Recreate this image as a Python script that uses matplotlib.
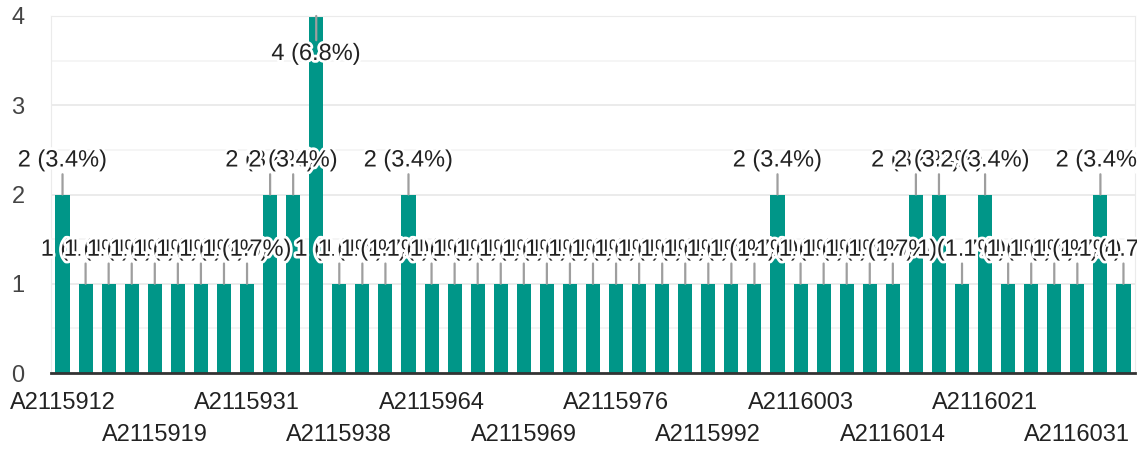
import matplotlib
matplotlib.use("Agg")
import matplotlib.pyplot as plt
import matplotlib.patheffects as pe
from matplotlib.transforms import Bbox, TransformedBbox

plt.rcParams['font.family'] = ['Liberation Sans', 'DejaVu Sans']

# student ids (only every 4th is printed on the axis)
categories = [
    "A2115912", "A2115914", "A2115916", "A2115917",
    "A2115919", "A2115922", "A2115925", "A2115928",
    "A2115931", "A2115933", "A2115935", "A2115936",
    "A2115938", "A2115944", "A2115951", "A2115957",
    "A2115964", "A2115965", "A2115966", "A2115968",
    "A2115969", "A2115971", "A2115973", "A2115974",
    "A2115976", "A2115980", "A2115984", "A2115988",
    "A2115992", "A2115995", "A2115998", "A2116001",
    "A2116003", "A2116005", "A2116008", "A2116011",
    "A2116014", "A2116016", "A2116018", "A2116019",
    "A2116021", "A2116023", "A2116026", "A2116028",
    "A2116031", "A2116033", "A2116036",
]
counts = [
    2, 1, 1, 1, 1, 1, 1, 1, 1, 2, 2, 4, 1, 1, 1,
    2, 1, 1, 1, 1, 1, 1, 1, 1, 1, 1, 1, 1, 1, 1, 1, 2,
    1, 1, 1, 1, 1, 2, 2, 1, 2, 1, 1, 1, 1, 2, 1,
]
y_ticks = [0, 1, 2, 3, 4]

BAR = "#009688"
total = sum(counts)
x = list(range(len(counts)))

fig = plt.figure(figsize=(11.44, 4.49), dpi=100)
ax = fig.add_axes([51 / 1144, 1 - 373 / 449, (1135 - 51) / 1144, (373 - 16) / 449])

ax.bar(x, counts, width=0.61, color=BAR, zorder=2)
ax.set_xlim(-0.5, len(counts) - 0.5)
ax.set_ylim(0, 4)

ax.set_yticks(y_ticks)
ax.set_yticks([0.5, 1.5, 2.5, 3.5], minor=True)
ax.grid(axis="y", which="major", color="#e8e8e8", lw=1.2, zorder=0)
ax.grid(axis="y", which="minor", color="#f4f4f4", lw=1.2, zorder=0)
ax.tick_params(axis="y", which="both", length=0, pad=19, labelsize=17, labelcolor="#444444")

shown = x[::4]
ax.set_xticks(shown)
ax.set_xticklabels([categories[i] for i in shown])
ax.tick_params(axis="x", length=0, labelsize=17, labelcolor="#222222")
for k, t in enumerate(ax.xaxis.get_major_ticks()):
    t.set_pad(14 if k % 2 == 0 else 37)

for s in ["left", "right", "top"]:
    ax.spines[s].set_color("#ebebeb")
ax.spines["bottom"].set_color("#333333")
ax.spines["bottom"].set_linewidth(2)
ax.spines["bottom"].set_zorder(3)

clip = TransformedBbox(Bbox([[0, 0], [1137 / 1144, 1]]), fig.transFigure)
top = max(counts)
for i, v in enumerate(counts):
    label = f"{v} ({v / total * 100:.1f}%)"
    if v == top:
        off, va, rel = -27, "top", (0.5, 1)
    else:
        off, va, rel = 23, "bottom", (0.5, 0)
    a = ax.annotate(label, xy=(i, v), xytext=(0, off), textcoords="offset pixels",
                    ha="center", va=va, fontsize=17, color="#222222", zorder=4,
                    annotation_clip=False,
                    arrowprops=dict(arrowstyle="-", color="#9e9e9e", lw=1.6,
                                    shrinkA=0, shrinkB=0, relpos=rel))
    a.set_path_effects([pe.withStroke(linewidth=4, foreground="white")])
    a.set_clip_box(clip)
    a.set_clip_on(True)

fig.savefig("out.png", dpi=100)
